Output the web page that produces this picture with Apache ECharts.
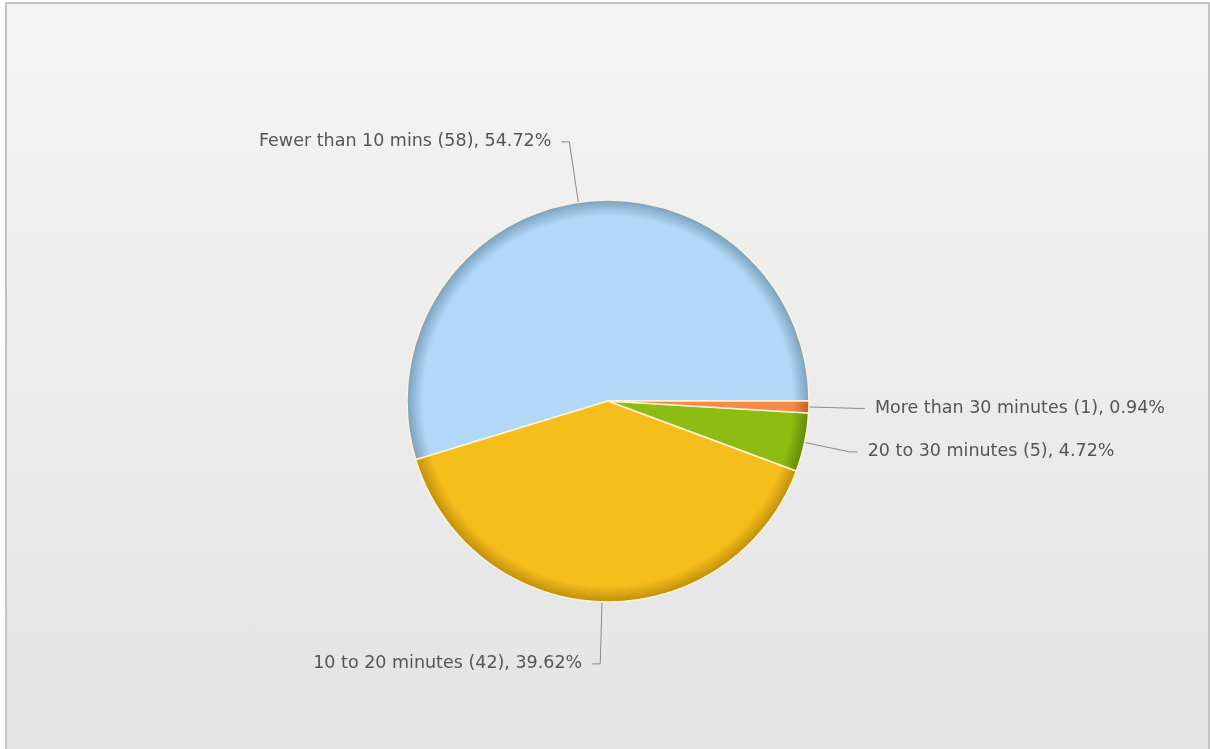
<!DOCTYPE html>
<html lang="en">
<head>
    <meta charset="UTF-8">
    <title>Time spent</title>
    <script src="https://cdn.jsdelivr.net/npm/echarts@6/dist/echarts.min.js"></script>
    <style>
        html, body { margin: 0; padding: 0; background: #ffffff; }
        #frame {
            position: absolute;
            left: 5px; top: 2px;
            width: 1201px; height: 770px;
            border: 2px solid #c4c4c4;
            background: linear-gradient(#f4f4f4, #e3e3e3);
        }
        #main {
            position: absolute;
            left: 0; top: 0;
            width: 1210px; height: 749px;
        }
    </style>
</head>
<body>
    <div id="frame"></div>
    <div id="main"></div>

    <script>
        // data
        var categories = ['Fewer than 10 mins', '10 to 20 minutes', '20 to 30 minutes', 'More than 30 minutes'];
        var counts = [58, 42, 5, 1];
        var baseColors = ['#b1d9f7', '#f6be1c', '#8dbd12', '#f68a4a'];
        var rimColors = ['#7c9fbb', '#c08f0a', '#5f8a0a', '#c0602a'];
        var lineLengths = [61, 62, 46, 48];

        var cx = 608, cy = 401, r = 201;

        function sliceColor(i) {
            return {
                type: 'radial', x: cx, y: cy, r: r, global: true,
                colorStops: [
                    { offset: 0, color: baseColors[i] },
                    { offset: 0.92, color: baseColors[i] },
                    { offset: 1, color: rimColors[i] }
                ]
            };
        }

        var myChart = echarts.init(document.getElementById('main'), null, { renderer: 'canvas' });

        var labelFont = 'Verdana, "DejaVu Sans", sans-serif';

        var option = {
            backgroundColor: 'transparent',
            animation: false,
            textStyle: { fontFamily: labelFont },
            series: [{
                type: 'pie',
                center: [cx, cy],
                radius: [0, r],
                startAngle: 0,
                clockwise: false,
                avoidLabelOverlap: true,
                data: categories.map(function (name, i) {
                    return {
                        name: name,
                        value: counts[i],
                        itemStyle: { color: sliceColor(i) },
                        labelLine: { length: lineLengths[i] }
                    };
                }),
                itemStyle: {
                    borderColor: '#fbf3d8',
                    borderWidth: 1.5
                },
                label: {
                    formatter: '{b} ({c}), {d}%',
                    fontFamily: labelFont,
                    fontSize: 17.5,
                    color: '#555555',
                    distanceToLabelLine: 10
                },
                labelLine: {
                    length: 60,
                    length2: 8,
                    lineStyle: { color: '#888888', width: 1 }
                }
            }]
        };

        myChart.setOption(option);
    </script>
</body>
</html>
